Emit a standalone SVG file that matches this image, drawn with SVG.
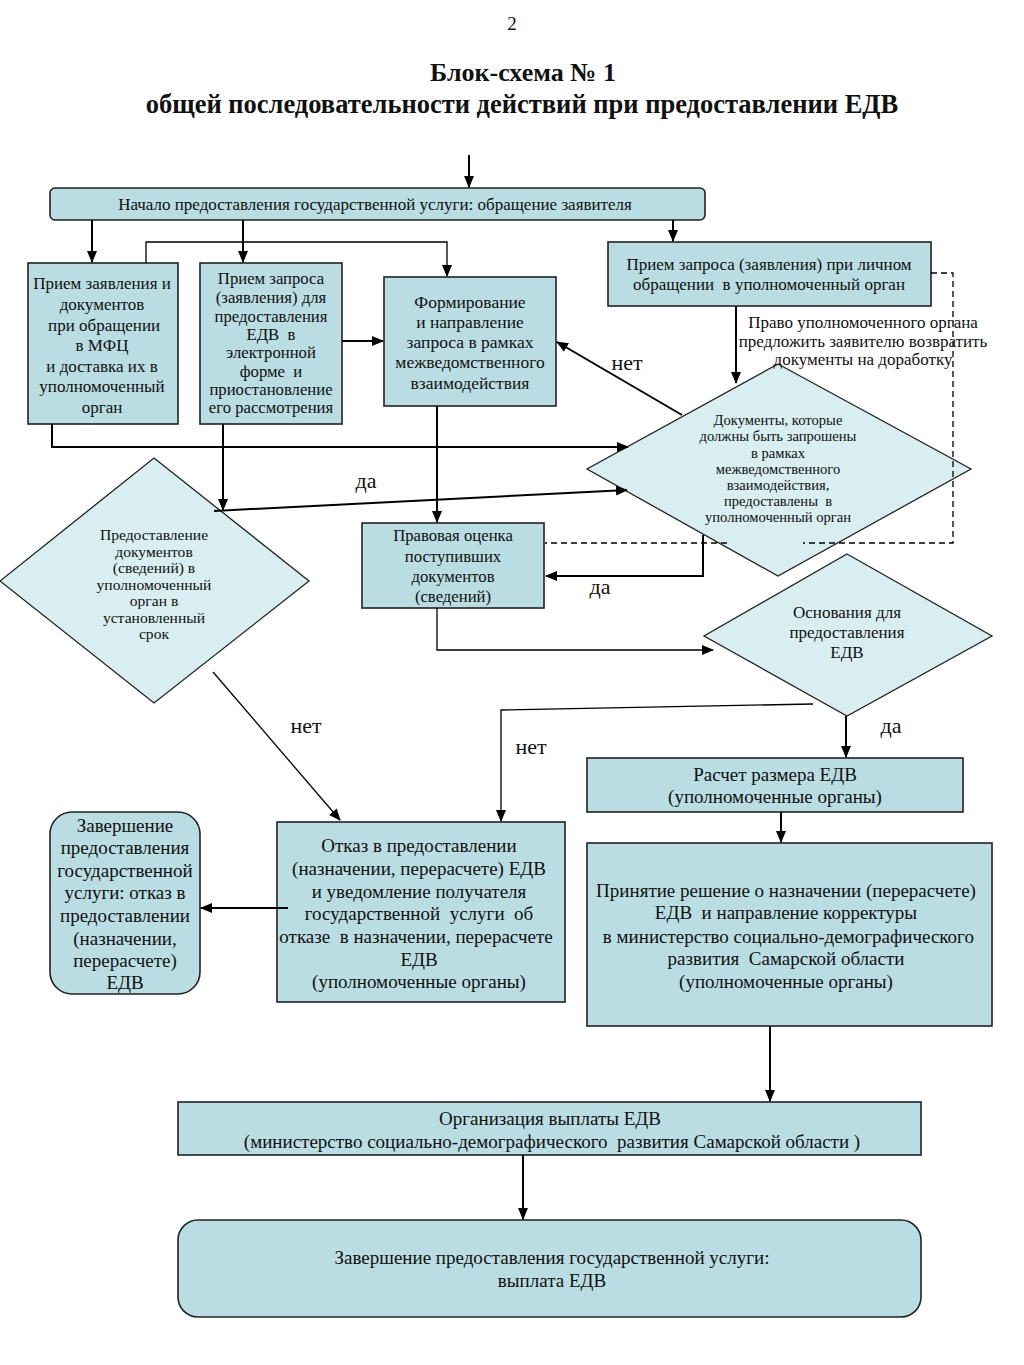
<svg xmlns="http://www.w3.org/2000/svg" width="1024" height="1365" viewBox="0 0 1024 1365">
<style>
text{font-family:"Liberation Serif","Times New Roman",serif;fill:#111;text-anchor:middle;white-space:pre}
.box{fill:#b9dde2;stroke:#222;stroke-width:1.6}
.dia{fill:#d8eef0;stroke:#222;stroke-width:1.3}
.ln{fill:none;stroke:#000;stroke-width:2}
.thin{fill:none;stroke:#000;stroke-width:1.3}
.dash{fill:none;stroke:#000;stroke-width:1.3;stroke-dasharray:6 4}
.lbl{font-size:22px}
</style>
<defs>
<marker id="ah" markerUnits="userSpaceOnUse" markerWidth="12" markerHeight="12" refX="11" refY="5" orient="auto" viewBox="0 0 12 10">
<path d="M0,0 L12,5 L0,10 z" fill="#000"/>
</marker>
</defs>
<rect width="1024" height="1365" fill="#fff"/>
<g id="title">
<text x="512" y="30" style="font-size:19px">2</text>
<text x="523" y="81" style="font-size:26px;font-weight:bold">Блок-схема № 1</text>
<text x="522" y="113" style="font-size:26.5px;font-weight:bold">общей последовательности действий при предоставлении ЕДВ</text>
</g>
<g id="start">
<rect class="box" x="50" y="188" width="655" height="32" rx="5"/>
<text x="375" y="210" style="font-size:17px">Начало предоставления государственной услуги: обращение заявителя</text>
</g>
<g id="mfc">
<rect class="box" x="28" y="263" width="150" height="161"/>
<text x="102" style="font-size:17px"><tspan x="102" y="289">Прием заявления и</tspan><tspan x="102" y="310">документов</tspan><tspan x="102" y="331"> при обращении</tspan><tspan x="102" y="351">в МФЦ</tspan><tspan x="102" y="372">и доставка их в</tspan><tspan x="102" y="392">уполномоченный</tspan><tspan x="102" y="413">орган</tspan></text>
</g>
<g id="electronic">
<rect class="box" x="200" y="263" width="142" height="161"/>
<text x="271" style="font-size:16.7px"><tspan x="271" y="284">Прием запроса</tspan><tspan x="271" y="303">(заявления) для</tspan><tspan x="271" y="322">предоставления</tspan><tspan x="271" y="340">ЕДВ  в</tspan><tspan x="271" y="358">электронной</tspan><tspan x="271" y="377">форме  и</tspan><tspan x="271" y="395">приостановление</tspan><tspan x="271" y="413">его рассмотрения</tspan></text>
</g>
<g id="interagency">
<rect class="box" x="384" y="277" width="172" height="129"/>
<text x="470" style="font-size:17.5px"><tspan x="470" y="308">Формирование</tspan><tspan x="470" y="328">и направление</tspan><tspan x="470" y="348">запроса в рамках</tspan><tspan x="470" y="368">межведомственного</tspan><tspan x="470" y="389">взаимодействия</tspan></text>
</g>
<g id="personal">
<rect class="box" x="608" y="242" width="323" height="64"/>
<text x="769" style="font-size:17px"><tspan x="769" y="270">Прием запроса (заявления) при личном</tspan><tspan x="769" y="290">обращении  в уполномоченный орган</tspan></text>
</g>
<g id="docs-decision">
<polygon class="dia" points="778,364 971,469 778,576 587,469"/>
<text x="778" style="font-size:14.6px"><tspan x="778" y="425">Документы, которые</tspan><tspan x="778" y="441">должны быть запрошены</tspan><tspan x="778" y="458">в рамках</tspan><tspan x="778" y="474">межведомственного</tspan><tspan x="778" y="490">взаимодействия,</tspan><tspan x="778" y="506">предоставлены  в</tspan><tspan x="778" y="522">уполномоченный орган</tspan></text>
</g>
<g id="deadline-decision">
<polygon class="dia" points="154,458 309,581 154,703 0,581"/>
<text x="154" style="font-size:15.6px"><tspan x="154" y="540">Предоставление</tspan><tspan x="154" y="556.5">документов</tspan><tspan x="154" y="573">(сведений) в</tspan><tspan x="154" y="589.5">уполномоченный</tspan><tspan x="154" y="606">орган в</tspan><tspan x="154" y="622.5">установленный</tspan><tspan x="154" y="639">срок</tspan></text>
</g>
<g id="legal">
<rect class="box" x="362" y="523" width="182" height="85"/>
<text x="453" style="font-size:16.7px"><tspan x="453" y="541">Правовая оценка</tspan><tspan x="453" y="562">поступивших</tspan><tspan x="453" y="582">документов</tspan><tspan x="453" y="602">(сведений)</tspan></text>
</g>
<g id="grounds-decision">
<polygon class="dia" points="847,554 992,636 847,716 704,636"/>
<text x="847" style="font-size:17px"><tspan x="847" y="618">Основания для</tspan><tspan x="847" y="638">предоставления</tspan><tspan x="847" y="658">ЕДВ</tspan></text>
</g>
<g id="calc">
<rect class="box" x="587" y="758" width="376" height="54"/>
<text x="775" style="font-size:19px"><tspan x="775" y="781">Расчет размера ЕДВ</tspan><tspan x="775" y="803">(уполномоченные органы)</tspan></text>
</g>
<g id="decision">
<rect class="box" x="587" y="843" width="405" height="183"/>
<text x="786" style="font-size:19px"><tspan x="786" y="897">Принятие решение о назначении (перерасчете)</tspan><tspan x="786" y="919">ЕДВ  и направление корректуры</tspan><tspan x="786" y="943"> в министерство социально-демографического</tspan><tspan x="786" y="965">развития  Самарской области</tspan><tspan x="786" y="988">(уполномоченные органы)</tspan></text>
</g>
<g id="refusal">
<rect class="box" x="277" y="822" width="288" height="180"/>
<text x="419" style="font-size:19px"><tspan x="419" y="852">Отказ в предоставлении</tspan><tspan x="419" y="875">(назначении, перерасчете) ЕДВ</tspan><tspan x="419" y="898">и уведомление получателя</tspan><tspan x="419" y="920">государственной  услуги  об</tspan><tspan x="416" y="943">отказе  в назначении, перерасчете</tspan><tspan x="419" y="966">ЕДВ</tspan><tspan x="419" y="988">(уполномоченные органы)</tspan></text>
</g>
<g id="end-refusal">
<rect class="box" x="50" y="812" width="150" height="182" rx="22"/>
<text x="125" style="font-size:19px"><tspan x="125" y="832">Завершение</tspan><tspan x="125" y="854">предоставления</tspan><tspan x="125" y="877">государственной</tspan><tspan x="125" y="899">услуги: отказ в</tspan><tspan x="125" y="922">предоставлении</tspan><tspan x="125" y="945">(назначении,</tspan><tspan x="125" y="967">перерасчете)</tspan><tspan x="125" y="989">ЕДВ</tspan></text>
</g>
<g id="payment">
<rect class="box" x="178" y="1102" width="743" height="53"/>
<text x="550" style="font-size:19px"><tspan x="550" y="1125">Организация выплаты ЕДВ</tspan><tspan x="552" y="1148">(министерство социально-демографического  развития Самарской области )</tspan></text>
</g>
<g id="end-payment">
<rect class="box" x="178" y="1220" width="743" height="97" rx="20"/>
<text x="550" style="font-size:19px"><tspan x="552" y="1264">Завершение предоставления государственной услуги:</tspan><tspan x="552" y="1287">выплата ЕДВ</tspan></text>
</g>
<g id="connectors">
<line class="ln" x1="469" y1="155" x2="469" y2="187" marker-end="url(#ah)"/>
<line class="ln" x1="92" y1="220" x2="92" y2="262" marker-end="url(#ah)"/>
<line class="ln" x1="243" y1="220" x2="243" y2="262" marker-end="url(#ah)"/>
<polyline class="thin" points="146,263 146,242 447,242 447,276" marker-end="url(#ah)"/>
<line class="ln" x1="673" y1="220" x2="673" y2="241" marker-end="url(#ah)"/>
<line class="ln" x1="342" y1="341" x2="383" y2="341" marker-end="url(#ah)"/>
<line class="ln" x1="736" y1="306" x2="736" y2="383" marker-end="url(#ah)"/>
<line class="ln" x1="682" y1="415" x2="557" y2="342" marker-end="url(#ah)"/>
<polyline class="ln" points="52,424 52,447 628,447" marker-end="url(#ah)"/>
<line class="ln" x1="223" y1="424" x2="223" y2="510" marker-end="url(#ah)"/>
<line class="ln" x1="214" y1="511" x2="627" y2="490" marker-end="url(#ah)"/>
<line class="ln" x1="437" y1="406" x2="437" y2="522" marker-end="url(#ah)"/>
<polyline class="ln" points="703,535 703,576 546,576" marker-end="url(#ah)"/>
<polyline class="dash" points="931,273 953,273 953,543 803,543"/>
<line class="dash" x1="727" y1="543" x2="545" y2="543"/>
<polyline class="thin" points="437,608 437,650 713,650" marker-end="url(#ah)"/>
<polyline class="thin" points="813,704 501,710 501,821" marker-end="url(#ah)"/>
<line class="thin" x1="213" y1="672" x2="340" y2="820" marker-end="url(#ah)"/>
<line class="ln" x1="288" y1="908" x2="201" y2="908" marker-end="url(#ah)"/>
<line class="ln" x1="846" y1="716" x2="846" y2="757" marker-end="url(#ah)"/>
<line class="ln" x1="781" y1="812" x2="781" y2="842" marker-end="url(#ah)"/>
<line class="ln" x1="770" y1="1026" x2="770" y2="1101" marker-end="url(#ah)"/>
<line class="ln" x1="523" y1="1155" x2="523" y2="1219" marker-end="url(#ah)"/>
</g>
<g id="labels">
<text x="863" style="font-size:17px"><tspan x="863" y="328">Право уполномоченного органа</tspan><tspan x="863" y="347">предложить заявителю возвратить</tspan><tspan x="863" y="365">документы на доработку</tspan></text>
<text class="lbl" x="627" y="370">нет</text>
<text class="lbl" x="366" y="488">да</text>
<text class="lbl" x="600" y="594">да</text>
<text class="lbl" x="306" y="733">нет</text>
<text class="lbl" x="531" y="754">нет</text>
<text class="lbl" x="891" y="733">да</text>
</g>
</svg>
